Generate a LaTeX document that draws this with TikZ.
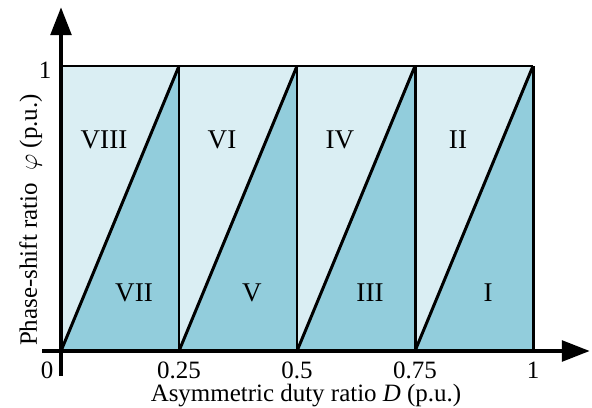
\documentclass[tikz,border=0pt]{standalone}
\usepackage{fontspec}
\setmainfont{Liberation Serif}
\usetikzlibrary{arrows.meta}

\definecolor{zonaclara}{HTML}{DAEEF3}
\definecolor{zonaescura}{HTML}{92CDDC}

\begin{document}
\begin{tikzpicture}[
  borda/.style={line width=1.7pt},
  eixo/.style={line width=2.8pt, -{Triangle[length=16pt,width=11.5pt]}},
  rotulo/.style={font=\fontsize{14.2}{16}\selectfont, inner sep=0pt},
  regiao/.style={font=\fontsize{15.4}{17}\selectfont}
]

\useasboundingbox (-1.22,-1.12) rectangle (10.62,7.02);

\def\L{2.36}  % largura de cada faixa
\def\H{5.7}   % altura (phi = 1)

\fill[zonaclara] (0,0) rectangle (4*\L,\H);

\foreach \k in {0,1,2,3}{
  \coordinate (b\k) at (\k*\L,0);
  \coordinate (t\k) at (\k*\L+\L,\H);
  \coordinate (c\k) at (\k*\L+\L,0);
  \fill[zonaescura] (b\k) -- (t\k) -- (c\k) -- cycle;   % triangulo escuro
  \draw[borda] (b\k) -- (t\k);
  \draw[borda] (c\k) -- (t\k);
}

\draw[borda] (0,\H) -- (4*\L,\H);   % phi = 1

% eixos
\coordinate (O) at (0,0);
\draw[eixo] (-0.38,0) -- (10.58,0);
\draw[eixo] (0,-0.5) -- (0,6.88);

% regioes
\foreach \k/\a/\b in {0/VIII/VII, 1/VI/V, 2/IV/III, 3/II/I}{
  \node[regiao] (sup\k) at (\k*\L+0.86,4.22) {\a};
  \node[regiao] (inf\k) at (\k*\L+1.46,1.17) {\b};
}

% marcas
\node[rotulo, anchor=base] (x0) at (-0.28,-0.54) {0};
\foreach \k/\v in {1/0.25, 2/0.5, 3/0.75, 4/1}{
  \node[rotulo, anchor=base] (x\k) at (\k*\L,-0.54) {\v};
}
\node[rotulo] (y1) at (-0.32,5.62) {1};

\node[rotulo, anchor=base] (xlab) at (4.9,-1.0) {Asymmetric duty ratio \textit{D} (p.u.)};
\node[rotulo, anchor=base, rotate=90] (ylab) at (-0.48,2.62) {Phase-shift ratio \ $\varphi$ (p.u.)};

\end{tikzpicture}
\end{document}
